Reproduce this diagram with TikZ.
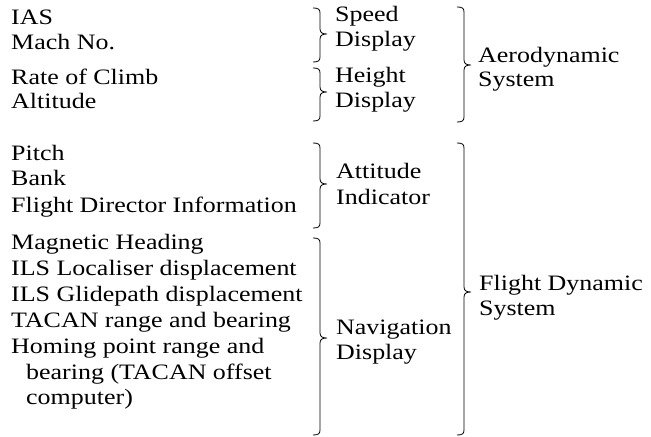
\documentclass[tikz,border=0pt]{standalone}
\usepackage{fontspec}
\setmainfont{Liberation Serif}[FakeStretch=1.18]
\newcommand\rbrc[4]{% x, top, tip, bottom
  \draw[brc] (#1-7,#2) .. controls (#1-2,#2) and (#1,#2+1) .. (#1,#2+5)
    -- (#1,#3-5) .. controls (#1,#3-1) and (#1+3,#3) .. (#1+7,#3)
    .. controls (#1+3,#3) and (#1,#3+1) .. (#1,#3+5)
    -- (#1,#4-5) .. controls (#1,#4-1) and (#1-2,#4) .. (#1-7,#4);}
\begin{document}
\begin{tikzpicture}[x=1bp,y=-1bp,
  txt/.style={anchor=base west, inner sep=0pt, font=\fontsize{22bp}{26bp}\selectfont},
  brc/.style={line width=0.8bp, black}]
\useasboundingbox (0,0) rectangle (651,437);
% left column
\node[txt] (ias)   at (11,25)  {IAS};
\node[txt] (mach)  at (11,50)  {Mach No.};
\node[txt] (roc)   at (11,85)  {Rate of Climb};
\node[txt] (alt)   at (11,109) {Altitude};
\node[txt] (pitch) at (11,161) {Pitch};
\node[txt] (bank)  at (11,186) {Bank};
\node[txt] (fdi)   at (11,213) {Flight Director Information};
\node[txt] (mag)   at (11,250) {Magnetic Heading};
\node[txt] (loc)   at (11,276) {ILS Localiser displacement};
\node[txt] (glide) at (11,302) {ILS Glidepath displacement};
\node[txt] (tacan) at (11,327) {TACAN range and bearing};
\node[txt] (hom)   at (11,353) {Homing point range and};
\node[txt] (hom2)  at (26,379) {bearing (TACAN offset};
\node[txt] (hom3)  at (26,404) {computer)};
% middle column
\rbrc{320}{8}{34}{62}
\node[txt] (speed) at (335,22)  {Speed};
\node[txt] (sdisp) at (335,47)  {Display};
\rbrc{320}{68}{92}{121}
\node[txt] (height) at (335,83) {Height};
\node[txt] (hdisp)  at (335,108) {Display};
\rbrc{320}{143}{184}{228}
\node[txt] (att) at (336,179) {Attitude};
\node[txt] (ind) at (336,205) {Indicator};
\rbrc{320}{238}{338}{435}
\node[txt] (nav)   at (336,334) {Navigation};
\node[txt] (ndisp) at (336,359) {Display};
% right column
\rbrc{464}{7}{65}{122}
\node[txt] (aero) at (478,63) {Aerodynamic};
\node[txt] (asys) at (478,87) {System};
\rbrc{464}{143}{292}{435}
\node[txt] (fdyn) at (479,291) {Flight Dynamic};
\node[txt] (fsys) at (479,316) {System};
\end{tikzpicture}
\end{document}
